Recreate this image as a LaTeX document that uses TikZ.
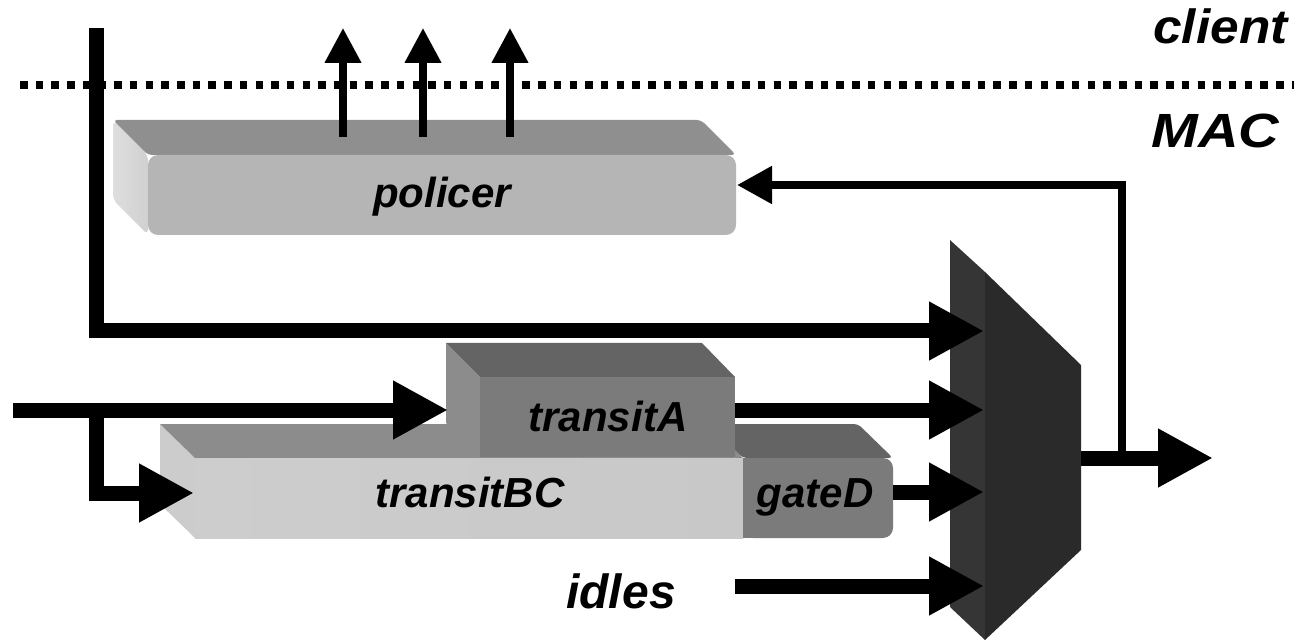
\documentclass[tikz,border=0pt]{standalone}
\usepackage{fontspec}
\setmainfont{Liberation Sans}
\usetikzlibrary{arrows.meta}
\definecolor{polfront}{HTML}{B5B5B5}
\definecolor{poltop}{HTML}{8F8F8F}
\definecolor{polside}{HTML}{D0D0D0}
\definecolor{polsideL}{HTML}{DEDEDE}
\definecolor{tafront}{HTML}{7B7B7B}
\definecolor{tatop}{HTML}{646464}
\definecolor{taside}{HTML}{8C8C8C}
\definecolor{bcside}{HTML}{CCCCCC}
\definecolor{bctop}{HTML}{8C8C8C}
\definecolor{bcA}{HTML}{CDCDCD}
\definecolor{bcB}{HTML}{E8E8E8}
\definecolor{bcC}{HTML}{C8C8C8}
\definecolor{muxside}{HTML}{353535}
\definecolor{muxfront}{HTML}{2A2A2A}
\begin{document}
\begin{tikzpicture}[x=0.5pt,y=-0.5pt,
  lbl/.style={font=\fontsize{21}{25}\selectfont\bfseries\itshape, inner sep=0pt, anchor=base},
  biglbl/.style={font=\fontsize{24}{28}\selectfont\bfseries\itshape, inner sep=0pt},
  bigarrow/.style={line width=7.5pt, -{Triangle[length=27.5pt,width=27.5pt]}},
  bigline/.style={line width=7.5pt},
  fbarrow/.style={line width=4pt, -{Triangle[length=17.5pt,width=18pt]}},
  uparrow/.style={line width=3.75pt, -{Triangle[length=17.5pt,width=17.5pt]}},
  dotline/.style={line width=3.75pt, dash pattern=on 3.75pt off 4.1pt},
]
\useasboundingbox (0,0) rectangle (1298,642);

% dotted boundary
\coordinate (dl) at (20,85);
\coordinate (dr) at (1294,85);
\draw[dotline] (dl) -- (dr);

% labels client / MAC
\node[biglbl, anchor=base east, xscale=1.07] (client) at (1288,44) {client};
\node[biglbl, anchor=base east, xscale=1.17] (mac) at (1280,148) {MAC};

% policer box
\shade[left color=polsideL, right color=polside, rounded corners=3pt]
  (113,120) -- (148,155) -- (148,235) -- (113,200) -- cycle;
\fill[poltop, rounded corners=2pt] (113,120) -- (701,120) -- (736,155) -- (148,155) -- cycle;
\fill[polfront, rounded corners=5pt] (148,155) rectangle (736,235);
\node[lbl] (policer) at (442,208) {policer};

% transitBC + gateD box
\fill[bcside] (160,424) -- (195,458) -- (195,538) -- (160,504) -- cycle;
\fill[bctop] (160,424) -- (708,424) -- (743,458) -- (195,458) -- cycle;
\fill[tatop, rounded corners=2pt] (708,424) -- (858,424) -- (893,458) -- (743,458) -- cycle;
\shade[left color=bcA, middle color=bcB, right color=bcC] (195,458) rectangle (743,538);
\fill[tafront, rounded corners=5pt] (743,458) -- (893,458) -- (893,538) -- (743,538) -- cycle;
\fill[tafront] (743,458) rectangle (760,538);
\node[lbl] (transitBC) at (470,507) {transitBC};
\node[lbl] (gateD) at (815,507) {gateD};

% transitA box
\fill[taside] (446,343) -- (480,377) -- (480,457) -- (446,423) -- cycle;
\fill[tatop] (446,343) -- (702,343) -- (735,377) -- (480,377) -- cycle;
\fill[tafront] (480,377) rectangle (735,457);
\node[lbl] (transitA) at (608,431) {transitA};

% multiplexer
\fill[muxside] (950,240) -- (985,272) -- (985,640) -- (950,607) -- cycle;
\fill[muxfront] (985,272) -- (1081,365) -- (1081,550) -- (985,640) -- cycle;

% connection points
\coordinate (feedtop) at (96,28);
\coordinate (feedcorner) at (96,331);
\coordinate (mux1) at (984,331);
\coordinate (mux2) at (984,410);
\coordinate (mux3) at (984,492);
\coordinate (mux4) at (984,586);
\coordinate (muxout) at (1081,458);
\coordinate (outend) at (1213,458);
\coordinate (inbeg) at (13,410);
\coordinate (taIn) at (448,410);
\coordinate (taOut) at (735,410);
\coordinate (branch) at (96,410);
\coordinate (bcIn) at (194,493);
\coordinate (gdOut) at (893,492);
\coordinate (idlesbeg) at (735,586);
\coordinate (fbtap) at (1122,458);
\coordinate (polIn) at (737,185);

% feed from client to mux
\draw[bigarrow] (feedtop) -- (feedcorner) -- (mux1);

% input line and branch
\draw[bigarrow] (inbeg) -- (taIn);
\draw[bigarrow] (branch) |- (bcIn);

% outputs into mux
\draw[bigarrow] (taOut) -- (mux2);
\draw[bigarrow] (gdOut) -- (mux3);
\draw[bigarrow] (idlesbeg) -- (mux4);
\node[biglbl, anchor=base] (idles) at (621,608) {idles};

% mux output
\draw[bigarrow] (muxout) -- (outend);

% feedback to policer
\draw[fbarrow] (fbtap) |- (polIn);

% policer up arrows
\foreach \x/\n in {343/a,423/b,510/c}{
  \coordinate (up\n s) at (\x,137);
  \coordinate (up\n e) at (\x,28);
  \draw[uparrow] (up\n s) -- (up\n e);
}
\end{tikzpicture}
\end{document}
